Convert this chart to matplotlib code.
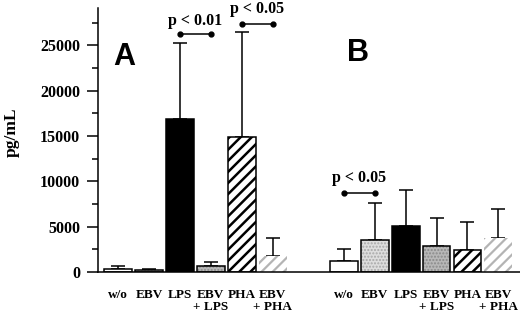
import numpy as np
import matplotlib
matplotlib.use('Agg')
import matplotlib.pyplot as plt

plt.rcParams.update({
    'font.family': 'Liberation Serif', 'font.weight': 'bold',
    'axes.linewidth': 1.1,
})

# data (pg/mL)
labels = ["w/o", "EBV", "LPS", "EBV\n+ LPS", "PHA", "EBV\n+ PHA"]
mean_A = [300, 250, 16900, 700, 14900, 1760]
sd_A   = [330, 100, 8350, 450, 11600, 1960]
mean_B = [1210, 3570, 5120, 2870, 2470, 3790]
sd_B   = [1290, 4030, 3880, 3130, 3010, 3120]

# bar styles: face, hatch, hatch colour, black outline
styles = [
    ("white",   None,    "black",   True),
    ("#dedede", ".....", "#a8a8a8", True),
    ("black",   None,    "black",   True),
    ("#b8b8b8", ".....", "#8a8a8a", True),
    ("white",   "///",   "black",   True),
    ("white",   "///",   "#b4b4b4", False),
]

fig = plt.figure(figsize=(5.2, 3.14), dpi=100)
ax = fig.add_axes([98/520, 42/314, 422/520, 264/314])

pos_A = np.arange(6)
pos_B = np.arange(6) + 7.3
w = 0.9

for pos, mean, sd in [(pos_A, mean_A, sd_A), (pos_B, mean_B, sd_B)]:
    for x, m, (fc, hatch, hc, outline) in zip(pos, mean, styles):
        b = ax.bar(x, m, w, color=fc, hatch=hatch, edgecolor=hc, lw=0, zorder=2)[0]
        if hatch == "///" and hasattr(b, "set_hatch_linewidth"):
            b.set_hatch_linewidth(1.8 if hc == "black" else 1.6)
        if outline:
            ax.bar(x, m, w, fill=False, edgecolor="black", lw=1.1, zorder=3)
    ax.errorbar(pos, mean, yerr=[np.zeros(6), sd], fmt='none', ecolor='black',
                elinewidth=1.1, capsize=5, capthick=1.1, zorder=1)

ax.set_xlim(-0.647, 13.0)
ax.set_ylim(0, 29110)
ax.set_yticks(np.arange(0, 25001, 5000))
ax.set_yticks(np.arange(2500, 29000, 5000), minor=True)
ax.tick_params(axis='y', which='major', length=8, width=1.1, labelsize=11.5, pad=5)
ax.tick_params(axis='y', which='minor', length=4, width=1.1)
ax.set_xticks(np.concatenate([pos_A, pos_B]))
ax.set_xticklabels(labels * 2, fontsize=9.5, linespacing=1.05)
ax.tick_params(axis='x', length=0, pad=12)
for s in ['top', 'right']:
    ax.spines[s].set_visible(False)

fig.text(12/520, 1 - 132/314, "pg/mL", rotation=90, ha='center', va='center',
         fontsize=12.5, fontweight='bold')

# significance markers
def sig(x1, x2, y, text, ty):
    ax.plot([x1, x2], [y, y], color='black', lw=1.1, marker='o', ms=3.5,
            clip_on=False, zorder=4)
    ax.text((x1 + x2) / 2, ty, text, ha='center', va='center', fontsize=11.5,
            fontweight='bold')

sig(pos_A[2], pos_A[3], 26210, "p < 0.01", 27700)
sig(pos_A[4], pos_A[5], 27390, "p < 0.05", 29000)
sig(pos_B[0], pos_B[1], 8710, "p < 0.05", 10330)

ax.text(0.2, 23700, "A", ha='center', va='center', fontsize=22,
        fontweight='bold', family='Liberation Sans')
ax.text(7.75, 24150, "B", ha='center', va='center', fontsize=22,
        fontweight='bold', family='Liberation Sans')

plt.savefig("out.png", dpi=100)
plt.close()
